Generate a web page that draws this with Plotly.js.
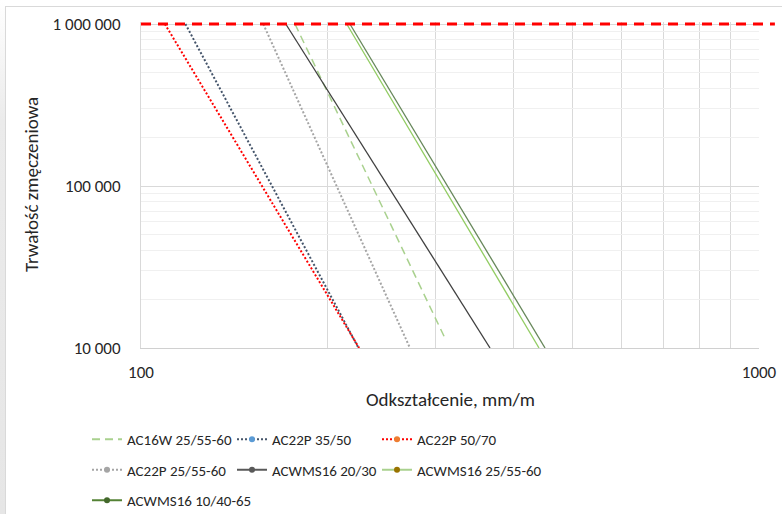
<!DOCTYPE html>
<html>
<head>
<meta charset="utf-8">
<script src="https://cdn.plot.ly/plotly-3.0.1.min.js"></script>
<style>
  html, body { margin: 0; padding: 0; background: #ffffff; }
  #strip { position: absolute; left: 0; top: 0; width: 5px; height: 514px;
           background: linear-gradient(#ffffff 0px, #ebebeb 120px, #e6e6e6 514px); }
  #frame { position: absolute; left: 5px; top: 6px; width: 777px; height: 508px;
           border-left: 1px solid #d9d9d9; border-top: 1px solid #d9d9d9; box-sizing: border-box; }
  #chart { position: absolute; left: 0; top: 0; width: 782px; height: 514px; }
</style>
</head>
<body>
<div id="strip"></div>
<div id="frame"></div>
<div id="chart"></div>
<script>
// ---- data ----
const seriesNames = ['AC16W 25/55-60', 'AC22P 35/50', 'AC22P 50/70', 'AC22P 25/55-60',
                     'ACWMS16 20/30', 'ACWMS16 25/55-60', 'ACWMS16 10/40-65'];
const ac16w_x      = [177.5, 310.4];
const ac16w_y      = [1000000, 11480];
const ac22p3550_x  = [118.0, 224.9];
const ac22p3550_y  = [1000000, 10000];
const ac22p5070_x  = [109.3, 225.4];
const ac22p5070_y  = [1000000, 10000];
const ac22p2555_x  = [157.7, 272.4];
const ac22p2555_y  = [1000000, 10000];
const acwms2030_x  = [171.5, 367.1];
const acwms2030_y  = [1000000, 10000];
const acwms2555_x  = [215.2, 440.6];
const acwms2555_y  = [1000000, 10000];
const acwms1040_x  = [217.8, 450.6];
const acwms1040_y  = [1000000, 10000];
const limit_x      = [100, 1061];
const limit_y      = [1000000, 1000000];

const xTickVals = [100, 1000];
const xTickText = ['100', '1000'];
const xMinorVals = [200, 300, 400, 500, 600, 700, 800, 900];
const yTickVals = [10000, 100000, 1000000];
const yTickText = ['10 000', '100 000', '1 000 000'];
const yMinorVals = [20000, 30000, 40000, 50000, 60000, 70000, 80000, 90000,
                    200000, 300000, 400000, 500000, 600000, 700000, 800000, 900000];
const xTitle = 'Odkształcenie, mm/m';
const yTitle = 'Trwałość zmęczeniowa';

// ---- styles ----
const FONT = 'Carlito, Lato, sans-serif';
const styles = [
  {line: {color: '#A9D18E', width: 1.5, dash: '8px,5px'}, marker: null},
  {line: {color: '#44546A', width: 2, dash: '2px,2px'}, marker: '#5B9BD5'},
  {line: {color: '#FF0000', width: 2, dash: '2px,2px'}, marker: '#ED7D31'},
  {line: {color: '#A5A5A5', width: 2, dash: '2px,2px'}, marker: '#A5A5A5'},
  {line: {color: '#404040', width: 1.3}, marker: '#595959', legendLine: '#595959'},
  {line: {color: '#92CC63', width: 1.3}, marker: '#997300', legendLine: '#A9D18E'},
  {line: {color: '#66875A', width: 1.3}, marker: '#43682B', legendLine: '#548235'}
];
const xs = [ac16w_x, ac22p3550_x, ac22p5070_x, ac22p2555_x, acwms2030_x, acwms2555_x, acwms1040_x];
const ys = [ac16w_y, ac22p3550_y, ac22p5070_y, ac22p2555_y, acwms2030_y, acwms2555_y, acwms1040_y];
// legend column of each series (3 columns, filled row by row like the original)
const legendOf = ['legend', 'legend2', 'legend3', 'legend', 'legend2', 'legend3', 'legend'];

const traces = [];
for (let i = 0; i < seriesNames.length; i++) {
  traces.push({
    type: 'scatter', mode: 'lines', x: xs[i], y: ys[i], name: seriesNames[i],
    line: styles[i].line, showlegend: false, hoverinfo: 'x+y+name'
  });
}
// red fatigue limit line (drawn on a wider twin axis so it runs a little past the grid)
traces.push({
  type: 'scatter', mode: 'lines', x: limit_x, y: limit_y, xaxis: 'x2', yaxis: 'y2',
  line: {color: '#FF0000', width: 3, dash: '10px,7px'}, showlegend: false, name: 'limit'
});
// legend entries
for (let i = 0; i < seriesNames.length; i++) {
  const st = styles[i];
  const ln = Object.assign({}, st.line, {width: 2});
  if (st.legendLine) ln.color = st.legendLine;
  traces.push({
    type: 'scatter', x: [null], y: [null], name: seriesNames[i],
    mode: st.marker ? 'lines+markers' : 'lines',
    line: ln, marker: {color: st.marker || st.line.color, size: 6},
    legend: legendOf[i], legendgroup: 'g' + i, showlegend: true
  });
}

const plotL = 141, plotR = 775, gridR = 759, plotT = 22, plotB = 348;
const decadeX = gridR - plotL;
const W = 782, H = 514;
const yTop = 6 + (24 - plotT) / 162;

const legendFont = {family: FONT, size: 15, color: '#262626'};
function leg(px) {
  return {
    orientation: 'v', xref: 'container', yref: 'container',
    x: px / W, xanchor: 'left',
    y: (H - 423) / H, yanchor: 'top',
    font: legendFont, bgcolor: 'rgba(0,0,0,0)', borderwidth: 0,
    tracegroupgap: 8, itemclick: false
  };
}
const titleFont = {family: FONT, size: 19, color: '#262626'};

const layout = {
  width: W, height: H,
  margin: {l: plotL, r: W - plotR, t: plotT, b: H - plotB, pad: 0, autoexpand: false},
  paper_bgcolor: 'rgba(0,0,0,0)', plot_bgcolor: 'rgba(0,0,0,0)',
  font: {family: FONT, color: '#262626'},
  showlegend: true,
  xaxis: {
    type: 'log', range: [2, 3], domain: [0, decadeX / (plotR - plotL)],
    tickmode: 'array', tickvals: xTickVals, ticktext: xTickText,
    tickfont: {family: FONT, size: 17, color: '#262626'},
    ticks: '', ticklabelstandoff: 9,
    showgrid: true, gridcolor: '#d9d9d9', gridwidth: 1,
    minor: {tickmode: 'array', tickvals: xMinorVals, showgrid: true, gridcolor: '#d9d9d9', gridwidth: 1, ticks: ''},
    showline: true, linecolor: '#d0d0d0', linewidth: 1, zeroline: false,
    anchor: 'y'
  },
  yaxis: {
    type: 'log', range: [4, yTop],
    tickmode: 'array', tickvals: yTickVals, ticktext: yTickText,
    tickfont: {family: FONT, size: 17, color: '#262626'},
    ticks: '', ticklabelstandoff: 16,
    showgrid: true, gridcolor: '#d9d9d9', gridwidth: 1,
    minor: {tickmode: 'array', tickvals: yMinorVals, showgrid: true, gridcolor: '#f0f0f0', gridwidth: 1, ticks: ''},
    showline: true, linecolor: '#d9d9d9', linewidth: 1, zeroline: false,
    anchor: 'x'
  },
  xaxis2: {
    type: 'log', range: [2, 2 + (plotR - plotL) / decadeX], domain: [0, 1],
    visible: false, anchor: 'y2', showgrid: false, zeroline: false
  },
  yaxis2: {
    type: 'log', range: [4, yTop], overlaying: 'y', anchor: 'x2',
    visible: false, showgrid: false, zeroline: false
  },
  annotations: [
    {text: xTitle, xref: 'x domain', x: 0.5, xanchor: 'center',
     yref: 'paper', y: (plotB - 399) / (plotB - plotT), yanchor: 'middle',
     showarrow: false, font: titleFont},
    {text: yTitle, xref: 'paper', x: (31 - plotL) / (plotR - plotL), xanchor: 'center',
     yref: 'y domain', y: 0.5, yanchor: 'middle', textangle: -90,
     showarrow: false, font: titleFont}
  ],
  legend: leg(87),
  legend2: leg(232),
  legend3: leg(377)
};

Plotly.newPlot('chart', traces, layout, {displayModeBar: false, staticPlot: true});
</script>
</body>
</html>
